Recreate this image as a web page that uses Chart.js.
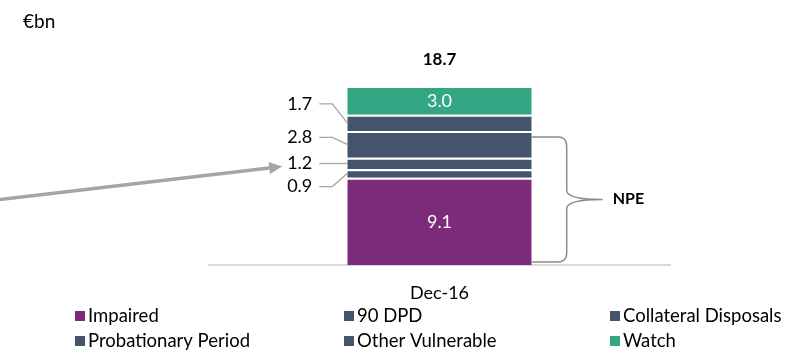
<!DOCTYPE html>
<html>
<head>
<meta charset="utf-8">
<script src="https://cdn.jsdelivr.net/npm/chart.js@4.4.1/dist/chart.umd.min.js"></script>
<style>
  html, body { margin: 0; padding: 0; background: #fff; }
  canvas { display: block; }
</style>
</head>
<body>
<canvas id="npeChart" width="798" height="353"></canvas>
<script>
// values in €bn
const categories = ["Dec-16"];
const seriesNames = ["Impaired", "90 DPD", "Collateral Disposals", "Probationary Period", "Other Vulnerable", "Watch"];
const impaired = [9.1];
const dpd90 = [0.9];
const collateralDisposals = [1.2];
const probationaryPeriod = [2.8];
const otherVulnerable = [1.7];
const watch = [3.0];
const totals = [18.7];

const PURPLE = "#7B2B79";
const SLATE = "#44546A";
const TEAL = "#33A784";
const GREY = "#A5A5A5";
const FONT = "Lato, 'Liberation Sans', sans-serif";

// which segments get their label inside the bar
const insideLabel = [true, false, false, false, false, true];
// vertical nudge (px) of the outside labels so they don't overlap
const labelNudge = [0, 13, 0, -7, -19, 0];

const ctx = document.getElementById("npeChart").getContext("2d");

const seriesValues = [impaired, dpd90, collateralDisposals, probationaryPeriod, otherVulnerable, watch];
const seriesColors = [PURPLE, SLATE, SLATE, SLATE, SLATE, TEAL];

const datasets = seriesNames.map((name, i) => ({
    label: name,
    data: seriesValues[i],
    backgroundColor: seriesColors[i],
    borderColor: "#ffffff",
    borderWidth: { top: 2, bottom: 0, left: 0, right: 0 },
    borderSkipped: false,
    barPercentage: 0.4,
    categoryPercentage: 1.0
}));

// labels, leader lines, total, bracket, arrow, legend
const annotations = {
    id: "annotations",
    afterDatasetsDraw(chart) {
        const c = chart.ctx;
        const area = chart.chartArea;
        c.save();

        // unit label
        c.fillStyle = "#000";
        c.font = "19px " + FONT;
        c.textAlign = "left";
        c.textBaseline = "middle";
        c.fillText("€bn", 23, 22);

        let barLeft = 0, barRight = 0, barTop = 0;
        let labelLeft = {};
        chart.data.datasets.forEach((ds, i) => {
            const bar = chart.getDatasetMeta(i).data[0];
            const half = bar.width / 2;
            const midY = (bar.y + bar.base) / 2;
            barLeft = bar.x - half;
            barRight = bar.x + half;
            if (i === chart.data.datasets.length - 1) barTop = bar.y;
            const txt = ds.data[0].toFixed(1);
            c.font = "18px " + FONT;
            if (insideLabel[i]) {
                c.fillStyle = "#ffffff";
                c.textAlign = "center";
                c.textBaseline = "middle";
                c.fillText(txt, bar.x, midY + 1);
            } else {
                const ly = midY + labelNudge[i];
                const textRight = barLeft - 35;
                c.fillStyle = "#000";
                c.textAlign = "right";
                c.textBaseline = "middle";
                c.fillText(txt, textRight, ly);
                labelLeft[i] = { x: textRight - c.measureText(txt).width, y: ly };
                // leader line
                c.strokeStyle = GREY;
                c.lineWidth = 1.3;
                c.beginPath();
                c.moveTo(textRight + 7, ly);
                c.lineTo(barLeft - 15, ly);
                c.lineTo(barLeft, midY);
                c.stroke();
            }
        });

        // total on top
        c.fillStyle = "#000";
        c.font = "bold 17px " + FONT;
        c.textAlign = "center";
        c.textBaseline = "middle";
        c.fillText(totals[0].toFixed(1), (barLeft + barRight) / 2, barTop - 26);

        // NPE brace: from top of Probationary Period down to the base
        const probBar = chart.getDatasetMeta(3).data[0];
        const bTop = probBar.y + 6;
        const bBot = area.bottom - 3;
        const bMid = (bTop + bBot) / 2;
        const x0 = barRight;
        const xv = barRight + 35;
        const xt = barRight + 71;
        const r = 9;
        c.strokeStyle = "#8C8C8C";
        c.lineWidth = 1.5;
        c.beginPath();
        c.moveTo(x0, bTop);
        c.lineTo(xv - r, bTop);
        c.quadraticCurveTo(xv, bTop, xv, bTop + r);
        c.lineTo(xv, bMid - r);
        c.quadraticCurveTo(xv, bMid, xt, bMid);
        c.quadraticCurveTo(xv, bMid, xv, bMid + r);
        c.lineTo(xv, bBot - r);
        c.quadraticCurveTo(xv, bBot, xv - r, bBot);
        c.lineTo(x0, bBot);
        c.stroke();
        c.fillStyle = "#000";
        c.font = "bold 16px " + FONT;
        c.textAlign = "left";
        c.textBaseline = "middle";
        c.fillText("NPE", xt + 10, bMid - 1);

        // arrow pointing at the Collateral Disposals value
        const tgt = labelLeft[2];
        const tipX = tgt.x - 5, tipY = tgt.y + 3;
        const sx = 0, sy = tipY + 33;
        const ang = Math.atan2(tipY - sy, tipX - sx);
        const headLen = 13, headW = 6;
        const bx = tipX - headLen * Math.cos(ang), by = tipY - headLen * Math.sin(ang);
        c.strokeStyle = GREY;
        c.fillStyle = GREY;
        c.lineWidth = 3.5;
        c.beginPath();
        c.moveTo(sx, sy);
        c.lineTo(bx, by);
        c.stroke();
        c.beginPath();
        c.moveTo(tipX, tipY);
        c.lineTo(bx - headW * Math.sin(ang), by + headW * Math.cos(ang));
        c.lineTo(bx + headW * Math.sin(ang), by - headW * Math.cos(ang));
        c.closePath();
        c.fill();

        // legend: 3 columns, 2 rows
        const colX = [75, 344, 610];
        const rowY = [316, 341];
        c.font = "18.5px " + FONT;
        c.textAlign = "left";
        c.textBaseline = "middle";
        chart.data.datasets.forEach((ds, i) => {
            const x = colX[i % 3];
            const y = rowY[Math.floor(i / 3)];
            c.fillStyle = ds.backgroundColor;
            c.fillRect(x, y - 5, 10, 10);
            c.fillStyle = "#000";
            c.fillText(ds.label, x + 13, y);
        });

        c.restore();
    }
};

new Chart(ctx, {
    type: "bar",
    data: {
        labels: categories,
        datasets: datasets
    },
    options: {
        responsive: false,
        animation: false,
        layout: {
            padding: { top: 40, left: 209, right: 128, bottom: 0 }
        },
        plugins: {
            legend: { display: false },
            tooltip: { enabled: false }
        },
        scales: {
            x: {
                stacked: true,
                grid: { display: false, drawTicks: false },
                border: { display: true, color: "#D9D9D9", width: 2 },
                ticks: {
                    color: "#000",
                    font: { family: FONT, size: 18 },
                    padding: 17
                },
                afterFit(scale) { scale.height = 88; }
            },
            y: {
                stacked: true,
                display: false,
                min: 0,
                max: 23.5
            }
        }
    },
    plugins: [annotations]
});
</script>
</body>
</html>
